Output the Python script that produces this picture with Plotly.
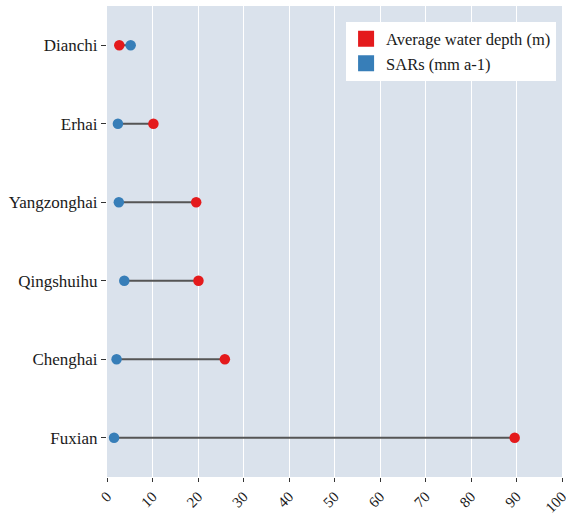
import plotly.graph_objects as go

lakes = ["Dianchi", "Erhai", "Yangzonghai", "Qingshuihu", "Chenghai", "Fuxian"]
depth = [2.7, 10.2, 19.6, 20.1, 25.9, 89.6]
sars = [5.2, 2.4, 2.6, 3.8, 2.1, 1.55]
xticks = [0, 10, 20, 30, 40, 50, 60, 70, 80, 90, 100]

RED = "#e41a1c"
BLUE = "#377eb8"
FONT = "Liberation Serif"

fig = go.Figure()

lx, ly = [], []
for lake, d, s in zip(lakes, depth, sars):
    lx += [s, d, None]
    ly += [lake, lake, None]
fig.add_trace(go.Scatter(x=lx, y=ly, mode="lines",
                         line=dict(color="#555555", width=2),
                         showlegend=False, hoverinfo="skip"))
fig.add_trace(go.Scatter(x=depth, y=lakes, mode="markers",
                         marker=dict(color=RED, size=10.5), showlegend=False))
fig.add_trace(go.Scatter(x=sars, y=lakes, mode="markers",
                         marker=dict(color=BLUE, size=10.5), showlegend=False))
# legend entries
fig.add_trace(go.Scatter(x=[None], y=[None], mode="markers", name="Average water depth (m)",
                         marker=dict(color=RED, size=20, symbol="square")))
fig.add_trace(go.Scatter(x=[None], y=[None], mode="markers", name="SARs (mm a-1)",
                         marker=dict(color=BLUE, size=20, symbol="square")))

fig.update_layout(
    width=566, height=513,
    margin=dict(l=107, r=4, t=6, b=36),
    paper_bgcolor="white",
    plot_bgcolor="#dae2ec",
    font=dict(family=FONT, size=17, color="#1a1a1a"),
    legend=dict(x=0.987, y=0.967, xanchor="right", yanchor="top",
                bgcolor="white", borderwidth=0, font=dict(size=16.5),
                itemsizing="trace", tracegroupgap=0),
    showlegend=True,
)
fig.update_xaxes(range=[0, 100], tickvals=xticks, tickangle=-45,
                 showgrid=True, gridcolor="white", gridwidth=1,
                 zeroline=False, showline=False, automargin=False,
                 ticklabeloverflow="allow",
                 ticks="outside", ticklen=4, tickcolor="#333333",
                 tickfont=dict(size=15, family=FONT))
fig.update_yaxes(type="category", categoryorder="array", categoryarray=lakes,
                 range=[len(lakes) - 0.5, -0.5], autorange=False,
                 showgrid=False, zeroline=False,
                 showline=False, automargin=False,
                 ticks="outside", ticklen=5, tickcolor="#333333",
                 tickfont=dict(size=17, family=FONT))

fig.write_html("out.html", config={"displayModeBar": False},
               post_script="document.body.style.margin='0';document.body.style.overflow='hidden';")
